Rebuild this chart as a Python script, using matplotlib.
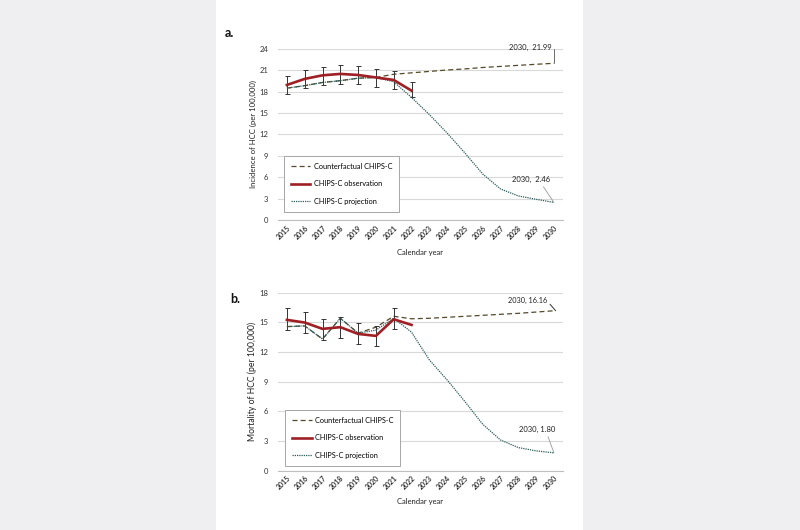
import matplotlib
matplotlib.use("Agg")
import matplotlib.pyplot as plt
import numpy as np
from matplotlib.patches import Rectangle

plt.rcParams['font.family'] = ['Lato', 'DejaVu Sans']

years = list(range(2015, 2031))
obs_years = list(range(2015, 2023))

# Panel a: incidence
inc_counter = [18.5, 18.85, 19.3, 19.55, 19.9, 20.0, 20.45, 20.65, 20.85, 21.05,
               21.2, 21.4, 21.55, 21.7, 21.85, 21.99]
inc_obs = [18.95, 19.8, 20.3, 20.5, 20.35, 20.0, 19.65, 18.15]
inc_lo = [17.65, 18.5, 18.9, 19.1, 19.05, 18.6, 18.4, 17.2]
inc_hi = [20.25, 21.05, 21.5, 21.75, 21.6, 21.15, 20.85, 19.3]
inc_proj = [18.5, 18.85, 19.3, 19.55, 19.9, 20.0, 19.4, 17.2, 14.8, 12.2,
            9.4, 6.45, 4.35, 3.37, 2.9, 2.46]

# Panel b: mortality
mort_counter = [14.56, 14.63, 13.3, 15.4, 13.9, 14.5, 15.6, 15.35, 15.4, 15.5,
                15.6, 15.7, 15.8, 15.9, 16.03, 16.16]
mort_obs = [15.24, 14.97, 14.33, 14.5, 13.82, 13.62, 15.3, 14.73]
mort_lo = [14.2, 13.9, 13.2, 13.4, 12.8, 12.6, 14.3, np.nan]
mort_hi = [16.4, 16.05, 15.35, 15.55, 14.9, 14.65, 16.45, np.nan]
mort_proj = [14.56, 14.63, 13.3, 15.4, 13.9, 14.2, 15.4, 14.0, 11.2, 9.17,
             6.98, 4.69, 3.1, 2.33, 2.0, 1.80]

labels = ["Counterfactual CHIPS-C", "CHIPS-C observation", "CHIPS-C projection"]
xlabel = "Calendar year"

C_COUNTER = '#54492a'
C_OBS = '#9e1f24'
C_PROJ = '#2c5b58'

fig = plt.figure(figsize=(8, 5.3), dpi=100)
fig.patch.set_facecolor('#efeff1')
fig.patches.append(Rectangle((0.27, 0), 0.459, 1, transform=fig.transFigure,
                             facecolor='white', edgecolor='none', zorder=-10))

ax1 = fig.add_axes([0.3475, 0.585, 0.356, 0.3226], zorder=2)
ax2 = fig.add_axes([0.3475, 0.112, 0.356, 0.336], zorder=2)


def draw(ax, counter, obs, lo, hi, proj, ymax, ylab, ylab_size, leg_anchor, xl_y):
    ax.set_facecolor('white')
    l1, = ax.plot(years, counter, color=C_COUNTER, lw=0.9, ls=(0, (4, 2.5)), zorder=3)
    yerr = [np.array(obs) - np.array(lo), np.array(hi) - np.array(obs)]
    ax.errorbar(obs_years, obs, yerr=yerr, fmt='none', ecolor='#333333',
                elinewidth=0.7, capsize=1.8, capthick=0.7, zorder=4)
    l2, = ax.plot(obs_years, obs, color=C_OBS, lw=1.9, zorder=5)
    l3, = ax.plot(years, proj, color=C_PROJ, lw=0.9, ls=(0, (1, 0.8)), zorder=4)
    ax.set_xlim(2014.5, 2030.5)
    ax.set_ylim(0, ymax)
    ax.set_yticks(np.arange(0, ymax + 0.1, 3))
    ax.set_xticks(years)
    ax.set_xticklabels([str(y) for y in years], rotation=45, ha='right',
                       rotation_mode='anchor', fontsize=5, fontweight='bold',
                       color='#333333')
    ax.tick_params(axis='x', length=0, pad=3)
    ax.tick_params(axis='y', length=0, pad=7, labelsize=5.5, labelcolor='#333333')
    ax.grid(axis='y', color='#d9d9d9', lw=0.8)
    ax.set_axisbelow(True)
    for s in ['left', 'right', 'top']:
        ax.spines[s].set_visible(False)
    ax.spines['bottom'].set_color('#bfbfbf')
    ax.spines['bottom'].set_linewidth(0.8)
    ax.set_ylabel(ylab, fontsize=ylab_size, color='#222222')
    ax.yaxis.set_label_coords(-0.075, 0.5)
    ax.set_xlabel(xlabel, fontsize=5.5, color='#222222')
    ax.xaxis.set_label_coords(0.5, xl_y)
    leg = ax.legend([l1, l2, l3], labels, loc='upper left', bbox_to_anchor=leg_anchor,
                    borderaxespad=0, fontsize=5.3, frameon=True, fancybox=False,
                    edgecolor='#a6a6a6', framealpha=1, labelspacing=1.45,
                    handlelength=2.7, handletextpad=0.5, borderpad=0.9)
    leg.get_frame().set_linewidth(0.7)
    return ax


draw(ax1, inc_counter, inc_obs, inc_lo, inc_hi, inc_proj, 24,
     "Incidence of HCC (per 100,000)", 5.6, (0.021, 0.374), -0.172)
draw(ax2, mort_counter, mort_obs, mort_lo, mort_hi, mort_proj, 18,
     "Mortality of HCC (per 100,000)", 6.2, (0.025, 0.341), -0.156)

# annotations panel a
ax1.annotate(f"2030,  {inc_counter[-1]:.2f}", xy=(years[-1] + 0.02, inc_counter[-1]),
             xytext=(2029.85, 24.2), fontsize=5.5, ha='right', va='center',
             color='#222222',
             arrowprops=dict(arrowstyle='-', color='#555555', lw=0.6,
                             connectionstyle='angle,angleA=0,angleB=90,rad=0',
                             shrinkA=1, shrinkB=0))
ax1.annotate(f"2030,  {inc_proj[-1]:.2f}", xy=(years[-1], inc_proj[-1]),
             xytext=(2029.8, 5.7), fontsize=5.5, ha='right', va='center',
             color='#222222',
             arrowprops=dict(arrowstyle='-', color='#999999', lw=0.6,
                             shrinkA=1, shrinkB=0, relpos=(0.75, 0)))

# annotations panel b
ax2.annotate(f"2030, {mort_counter[-1]:.2f}", xy=(years[-1] + 0.1, mort_counter[-1]),
             xytext=(2029.6, 17.2), fontsize=5.3, ha='right', va='center',
             color='#222222',
             arrowprops=dict(arrowstyle='-', color='#333333', lw=0.7,
                             shrinkA=0.5, shrinkB=0, relpos=(1, 0.5)))
ax2.annotate(f"2030, {mort_proj[-1]:.2f}", xy=(years[-1], mort_proj[-1]),
             xytext=(2030.1, 4.2), fontsize=5.5, ha='right', va='center',
             color='#222222',
             arrowprops=dict(arrowstyle='-', color='#999999', lw=0.6,
                             shrinkA=1, shrinkB=0, relpos=(0.75, 0)))

fig.text(229 / 800, 1 - 33 / 530, "a.", fontsize=9, fontweight='bold',
         ha='center', va='center', color='#111111')
fig.text(235 / 800, 1 - 299 / 530, "b.", fontsize=9, fontweight='bold',
         ha='center', va='center', color='#111111')

fig.savefig("out.png", dpi=100, facecolor=fig.get_facecolor())
